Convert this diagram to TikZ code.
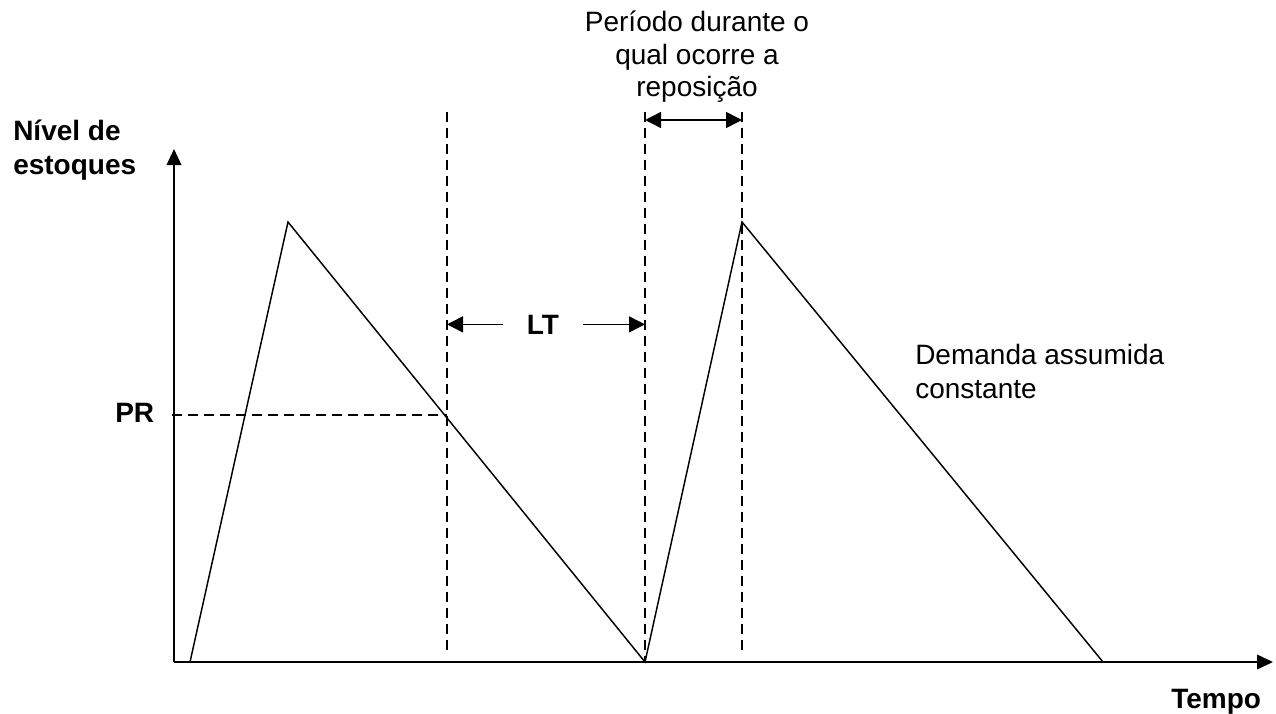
\documentclass[tikz,border=0pt]{standalone}
\usepackage{fontspec}
\setmainfont{Liberation Sans}
\usetikzlibrary{arrows.meta}

\begin{document}
\begin{tikzpicture}[
    x=0.75pt, y=-0.75pt,
    txt/.style={
        inner sep=0pt,
        font=\fontsize{21}{24.4}\selectfont
    },
    bold/.style={
        txt,
        font=\fontsize{21}{26.2}\selectfont\bfseries
    },
    axis/.style={-{Triangle[length=12pt, width=11pt]}, line width=1.1pt},
    arrow/.style={-{Triangle[length=12pt, width=12pt]}, line width=1.1pt},
    dblarrow/.style={{Triangle[length=12pt, width=12pt]}-{Triangle[length=12pt, width=12pt]}, line width=1.1pt},
    guide/.style={line width=1.5pt, dash pattern=on 7.5pt off 4.5pt},
    stock/.style={line width=1.1pt}
]
\useasboundingbox (0,0) rectangle (1276,713);

\coordinate (origin) at (174,662);
\coordinate (xend) at (1273,662);
\coordinate (yend) at (174,149);

\coordinate (s0) at (190,662);
\coordinate (s1) at (288,222);
\coordinate (s2) at (645,662);
\coordinate (s3) at (742,222);
\coordinate (s4) at (1103,662);

\coordinate (pTop) at (447,112);
\coordinate (pBot) at (447,655);
\coordinate (cTop) at (645,112);
\coordinate (cBot) at (645,662);
\coordinate (rTop) at (742,112);
\coordinate (rBot) at (742,655);

\coordinate (prA) at (172,415);
\coordinate (prB) at (447,415);

\draw[axis] (origin) -- (xend);
\draw[axis] (origin) -- (yend);

\draw[stock] (s0) -- (s1) -- (s2) -- (s3) -- (s4);

\draw[guide] (pTop) -- (pBot);
\draw[guide] (cTop) -- (cBot);
\draw[guide] (rTop) -- (rBot);
\draw[guide] (prA) -- (prB);

\node[bold, align=left, anchor=base west] (nivel) at (13,175) {Nível de\\estoques};
\node[bold, anchor=base west] (pr) at (115,422) {PR};
\node[bold, anchor=base west] (tempo) at (1171,708) {Tempo};
\node[bold, inner xsep=18pt, anchor=base] (lt) at (543,334) {LT};
\node[txt, align=center, anchor=base] (periodo) at (697,97) {Período durante o\\qual ocorre a\\reposição};
\node[txt, align=left, anchor=base west, font=\fontsize{21}{24.8}\selectfont] (demanda) at (915,398) {Demanda assumida\\constante};

\draw[arrow] (lt.west) -- (lt.west -| pTop);
\draw[arrow] (lt.east) -- (lt.east -| cTop);
\draw[dblarrow] (cTop |- 0,120) -- (rTop |- 0,120);
\end{tikzpicture}
\end{document}
